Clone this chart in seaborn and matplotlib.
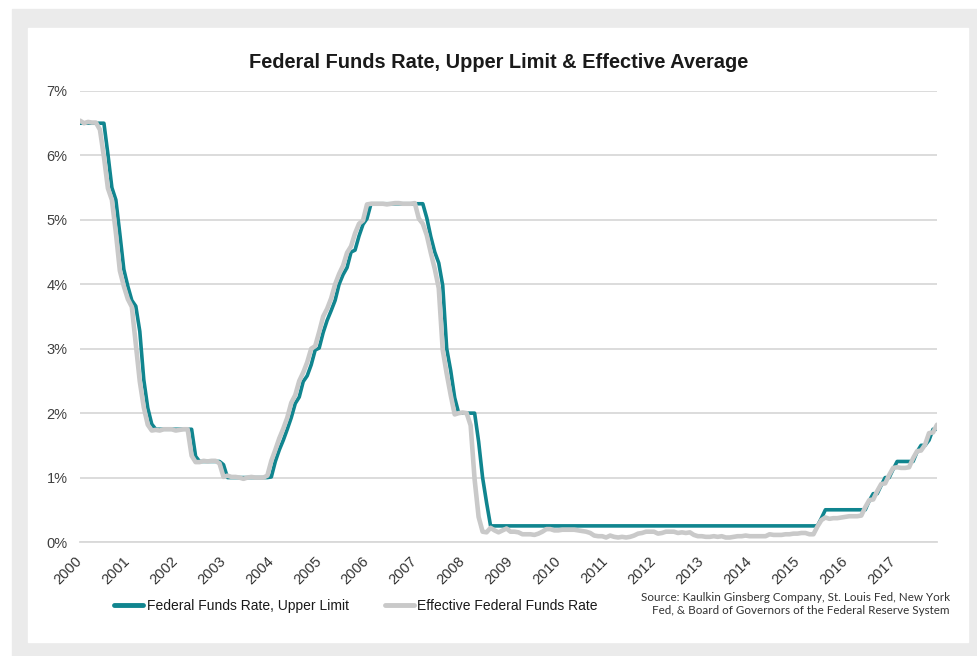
import matplotlib
matplotlib.use("Agg")
import matplotlib.pyplot as plt
import matplotlib.transforms as mtransforms
from matplotlib.patches import Rectangle
from matplotlib.lines import Line2D
import numpy as np
import pandas as pd
import seaborn as sns

# monthly series, 216 points each (category axis, one label every 12 months)
year_labels = [str(y) for y in range(2000, 2018)]

# upper limit of the target range (monthly average), plotted one slot behind
upper_limit = (
    [6.5] * 7
    + [6.02, 5.5, 5.31, 4.78, 4.23, 3.97, 3.75, 3.66, 3.27, 2.52, 2.08, 1.83]
    + [1.75] * 10 + [1.33, 1.25]
    + [1.25] * 5 + [1.2] + [1.0] * 6
    + [1.0] * 5 + [1.01, 1.25, 1.43, 1.58, 1.75, 1.93, 2.15]
    + [2.25, 2.49, 2.58, 2.75, 2.98, 3.01, 3.25, 3.44, 3.59, 3.75, 4.0, 4.15]
    + [4.26, 4.5, 4.53, 4.75, 4.93, 5.02] + [5.25] * 6
    + [5.25] * 8 + [5.03, 4.74, 4.5, 4.33]
    + [3.98, 3.0, 2.66, 2.24] + [2.0] * 5 + [1.56, 1.0, 0.61]
    + [0.25] * 83 + [0.37]
    + [0.5] * 11 + [0.64]
    + [0.75, 0.75, 0.88, 1.0, 1.0, 1.13] + [1.25] * 5 + [1.40]
    + [1.5, 1.5, 1.58, 1.75, 1.75]
)

# effective rate, monthly average
effective_rate = (
    [6.54, 6.50, 6.52, 6.51, 6.51, 6.40]
    + [5.98, 5.49, 5.31, 4.80, 4.21, 3.97, 3.77, 3.65, 3.07, 2.49, 2.09, 1.82]
    + [1.73, 1.74, 1.73, 1.75, 1.75, 1.75, 1.73, 1.74, 1.75, 1.75, 1.34, 1.24]
    + [1.24, 1.26, 1.25, 1.26, 1.26, 1.22, 1.01, 1.03, 1.01, 1.01, 1.00, 0.98]
    + [1.00, 1.01, 1.00, 1.00, 1.00, 1.03, 1.26, 1.43, 1.61, 1.76, 1.93, 2.16]
    + [2.28, 2.50, 2.63, 2.79, 3.00, 3.04, 3.26, 3.50, 3.62, 3.78, 4.00, 4.16]
    + [4.29, 4.49, 4.59, 4.79, 4.94, 4.99, 5.24, 5.25, 5.25, 5.25, 5.25, 5.24]
    + [5.25, 5.26, 5.26, 5.25, 5.25, 5.25, 5.26, 5.02, 4.94, 4.76, 4.49, 4.24]
    + [3.94, 2.98, 2.61, 2.28, 1.98, 2.00, 2.01, 2.00, 1.81, 0.97, 0.39, 0.16]
    + [0.15, 0.22, 0.18, 0.15, 0.18, 0.21, 0.16, 0.16, 0.15, 0.12, 0.12, 0.12]
    + [0.11, 0.13, 0.16, 0.20, 0.20, 0.18, 0.18, 0.19, 0.19, 0.19, 0.19, 0.18]
    + [0.17, 0.16, 0.14, 0.10, 0.09, 0.09, 0.07, 0.10, 0.08, 0.07, 0.08, 0.07]
    + [0.08, 0.10, 0.13, 0.14, 0.16, 0.16, 0.16, 0.13, 0.14, 0.16, 0.16, 0.16]
    + [0.14, 0.15, 0.14, 0.15, 0.11, 0.09, 0.09, 0.08, 0.08, 0.09, 0.08, 0.09]
    + [0.07, 0.07, 0.08, 0.09, 0.09, 0.10, 0.09, 0.09, 0.09, 0.09, 0.09, 0.12]
    + [0.11, 0.11, 0.11, 0.12, 0.12, 0.13, 0.13, 0.14, 0.14, 0.12, 0.12, 0.24]
    + [0.34, 0.38, 0.36, 0.37, 0.37, 0.38, 0.39, 0.40, 0.40, 0.40, 0.41, 0.54]
    + [0.65, 0.66, 0.79, 0.90, 0.91, 1.04, 1.15, 1.16, 1.15, 1.15, 1.16, 1.30]
    + [1.41, 1.42, 1.51, 1.69, 1.70, 1.82]
)

series_names = ["Federal Funds Rate, Upper Limit", "Effective Federal Funds Rate"]
colors = ["#10858f", "#c9c9c9"]

month = np.arange(len(effective_rate))
df_upper = pd.DataFrame({"month": month, "rate": upper_limit})
df_eff = pd.DataFrame({"month": month, "rate": effective_rate})

sns.set_style("white")
plt.rcParams["font.family"] = ["Liberation Sans", "DejaVu Sans"]

fig = plt.figure(figsize=(9.77, 6.56), dpi=100)
# gray frame + white card (behind the axes)
fig.patches.append(Rectangle((12 / 977, 0), 965 / 977, 647 / 656,
                             transform=fig.transFigure, color="#ebebeb", zorder=-2))
fig.patches.append(Rectangle((28 / 977, 14 / 656), 940 / 977, 614 / 656,
                             transform=fig.transFigure, color="white", zorder=-1))

ax = fig.add_axes([80 / 977, 114 / 656, 857 / 977, 451 / 656])
ax.set_facecolor("none")
ax.set_zorder(1)

sns.lineplot(data=df_upper, x="month", y="rate", color=colors[0], linewidth=2.6, ax=ax)
sns.lineplot(data=df_eff, x="month", y="rate", color=colors[1], linewidth=3.3, ax=ax)

ax.set_xlim(0, len(month) - 1)
ax.set_ylim(0, 7)
ax.set_yticks(range(0, 8))
ax.set_yticklabels([f"{v}%" for v in range(0, 8)])
ax.set_xticks(range(0, len(month), 12))
ax.set_xticklabels(year_labels, rotation=45, ha="right", va="center", rotation_mode="anchor")
# nudge the rotated year labels a little to the right, like the original
shift = mtransforms.ScaledTranslation(4 / 100, 0, fig.dpi_scale_trans)
for lbl in ax.get_xticklabels():
    lbl.set_transform(lbl.get_transform() + shift)
ax.yaxis.grid(True, color="#d9d9d9", linewidth=1.3)
ax.set_axisbelow(True)
for s in ["top", "right", "left"]:
    ax.spines[s].set_visible(False)
ax.spines["bottom"].set_color("#d9d9d9")
ax.spines["bottom"].set_linewidth(1.3)
ax.tick_params(axis="y", length=0, pad=9, labelsize=10.5, labelcolor="#404040")
ax.tick_params(axis="x", length=0, pad=12, labelsize=10.5, labelcolor="#333333")
ax.set_xlabel("")
ax.set_ylabel("")

fig.text(499 / 977, 1 - 62 / 656, "Federal Funds Rate, Upper Limit & Effective Average",
         ha="center", va="center", fontsize=14.4, fontweight="bold", color="#1a1a1a")

handles = [Line2D([], [], color=c, linewidth=3.5) for c in colors]
fig.legend(handles, series_names, loc="center left", bbox_to_anchor=(114 / 977, 1 - 606 / 656),
           ncol=2, frameon=False, handlelength=2.1, handletextpad=0.25, columnspacing=2.6,
           borderpad=0, borderaxespad=0, fontsize=10, labelcolor="#1a1a1a")

fig.text(950 / 977, 1 - 604 / 656,
         "Source: Kaulkin Ginsberg Company, St. Louis Fed, New York\n"
         "Fed, & Board of Governors of the Federal Reserve System",
         ha="right", va="center", fontsize=8.35, family="Lato", color="#333333",
         linespacing=1.2)

fig.savefig("out.png", dpi=100)
